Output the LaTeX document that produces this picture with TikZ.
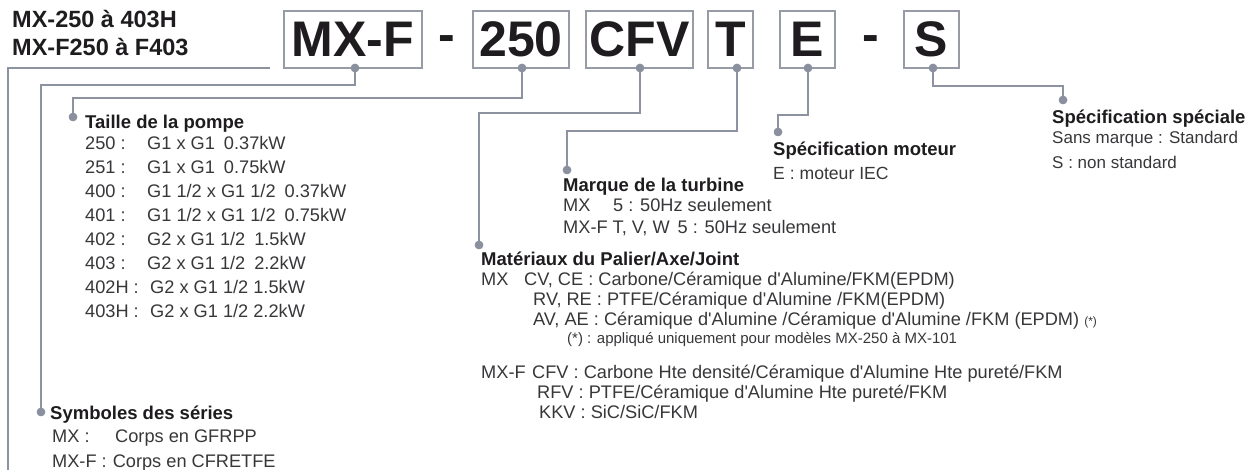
\documentclass[tikz,border=0pt]{standalone}
\usepackage{fontspec}
\setmainfont{Liberation Sans}[Ligatures=TeXOff]
\definecolor{linegray}{RGB}{140,146,160}
\definecolor{boxgray}{RGB}{150,155,166}
\definecolor{dotgray}{RGB}{138,144,158}
\definecolor{titlec}{RGB}{30,28,30}
\definecolor{bodyc}{RGB}{55,55,58}
\tikzset{
  conn/.style={draw=linegray, line width=1.1bp},
  dotn/.style={circle, fill=dotgray, inner sep=0pt, minimum size=8.5bp},
  codebox/.style={draw=boxgray, line width=1.2bp, inner sep=0pt,
    font=\fontsize{50bp}{50bp}\selectfont\bfseries, text=titlec},
  dashtxt/.style={font=\fontsize{50bp}{50bp}\selectfont\bfseries, text=titlec, inner sep=0pt, anchor=base},
  hdr/.style={font=\fontsize{23.5bp}{26bp}\selectfont\bfseries, anchor=base west, inner sep=0pt, text=titlec},
  ttl/.style={font=\fontsize{18.5bp}{20bp}\selectfont\bfseries, anchor=base west, inner sep=0pt, text=titlec},
  bdy/.style={font=\fontsize{18.2bp}{20bp}\selectfont, anchor=base west, inner sep=0pt, text=bodyc},
  bdyb/.style={bdy, font=\fontsize{17.6bp}{20bp}\selectfont},
  bdyc/.style={bdy, font=\fontsize{17bp}{20bp}\selectfont},
  small/.style={font=\fontsize{15bp}{16bp}\selectfont, anchor=base west, inner sep=0pt, text=bodyc},
}
\begin{document}
\begin{tikzpicture}[x=1bp,y=-1bp]
\useasboundingbox (0,0) rectangle (1253,470);
% header
\node[hdr] (h1) at (12,28) {MX-250 à 403H};
\node[hdr] (h2) at (12,56) {MX-F250 à F403};
% code boxes
\node[codebox, minimum width=138bp, minimum height=57bp] (bmxf) at (353,39.5) {MX-F};
\node[dashtxt] (d1) at (446.5,51.5) {-};
\node[codebox, minimum width=96bp, minimum height=57bp] (b250) at (521,39.5) {250};
\node[codebox, minimum width=107bp, minimum height=57bp] (bcfv) at (639.5,39.5) {CFV};
\node[codebox, minimum width=45bp, minimum height=57bp] (bt) at (730.5,39.5) {T};
\node[codebox, minimum width=55bp, minimum height=57bp] (be) at (807.5,39.5) {E};
\node[dashtxt] (d2) at (870.5,51.5) {-};
\node[codebox, minimum width=55bp, minimum height=57bp] (bs) at (931.5,39.5) {S};
% dots on boxes
\node[dotn] (pmxf) at (355,68) {};
\node[dotn] (p250) at (522,68) {};
\node[dotn] (pcfv) at (640,68) {};
\node[dotn] (pt) at (737,68) {};
\node[dotn] (pe) at (808,68) {};
\node[dotn] (ps) at (933,68) {};
% end dots
\node[dotn] (qsym) at (41,412) {};
\node[dotn] (qtai) at (73,117) {};
\node[dotn] (qmat) at (479,245) {};
\node[dotn] (qmar) at (567,170) {};
\node[dotn] (qmot) at (778,132) {};
\node[dotn] (qspe) at (1063,100) {};
\coordinate (outA) at (270,68);
\coordinate (outB) at (8,470);
% connectors
\draw[conn] (outA) -- (8,68) -- (outB);
\draw[conn] (pmxf.center) |- (41,85) -- (qsym.center);
\draw[conn] (p250.center) |- (73,98) -- (qtai.center);
\draw[conn] (pcfv.center) |- (479,113) -- (qmat.center);
\draw[conn] (pt.center) |- (567,131) -- (qmar.center);
\draw[conn] (pe.center) |- (778,115) -- (qmot.center);
\draw[conn] (ps.center) |- (1063,86) -- (qspe.center);
\foreach \n in {pmxf,p250,pcfv,pt,pe,ps,qsym,qtai,qmat,qmar,qmot,qspe}{\node[dotn] at (\n) {};}
% Taille de la pompe
\node[ttl] (ttai) at (85,129) {Taille de la pompe};
\node[bdy] (r1) at (85,150) {\makebox[62bp][l]{250 :}G1 x G1\hspace{9bp}0.37kW};
\node[bdy] (r2) at (85,174) {\makebox[62bp][l]{251 :}G1 x G1\hspace{9bp}0.75kW};
\node[bdy] (r3) at (85,198) {\makebox[62bp][l]{400 :}G1 1/2 x G1 1/2\hspace{9bp}0.37kW};
\node[bdy] (r4) at (85,222) {\makebox[62bp][l]{401 :}G1 1/2 x G1 1/2\hspace{9bp}0.75kW};
\node[bdy] (r5) at (85,246) {\makebox[62bp][l]{402 :}G2 x G1 1/2\hspace{9bp}1.5kW};
\node[bdy] (r6) at (85,270) {\makebox[62bp][l]{403 :}G2 x G1 1/2\hspace{9bp}2.2kW};
\node[bdy] (r7) at (85,294) {\makebox[65bp][l]{402H :}G2 x G1 1/2 1.5kW};
\node[bdy] (r8) at (85,318) {\makebox[65bp][l]{403H :}G2 x G1 1/2 2.2kW};
% Symboles des series
\node[ttl] (tsym) at (50,420) {Symboles des séries};
\node[bdy] (s1) at (52,443) {\makebox[63bp][l]{MX :}Corps en GFRPP};
\node[bdy] (s2) at (52,468) {MX-F :\hspace{6bp}Corps en CFRETFE};
% Marque de la turbine
\node[ttl] (tmar) at (563,192) {Marque de la turbine};
\node[bdy] (m1) at (563,212) {\makebox[50bp][l]{MX}5 : 50Hz seulement};
\node[bdy] (m2) at (563,234) {MX-F T, V, W\hspace{8bp}5 : 50Hz seulement};
% Specification moteur
\node[ttl] (tmot) at (773,156) {Spécification moteur};
\node[bdyb] (e1) at (773,180) {E : moteur IEC};
% Specification speciale
\node[ttl] (tspe) at (1052,124) {Spécification spéciale};
\node[bdyc] (sp1) at (1052,144) {Sans marque : Standard};
\node[bdyc] (sp2) at (1052,169) {S : non standard};
% Materiaux
\node[ttl] (tmat) at (481,266) {Matériaux du Palier/Axe/Joint};
\node[bdy] (a0) at (481,286) {MX};
\node[bdy] (a1) at (524,286) {CV, CE : Carbone/Céramique d'Alumine/FKM(EPDM)};
\node[bdy] (a2) at (533,306) {RV, RE : PTFE/Céramique d'Alumine /FKM(EPDM)};
\node[bdy] (a3) at (533,326) {AV, AE : Céramique d'Alumine /Céramique d'Alumine /FKM (EPDM) {\fontsize{12bp}{12bp}\selectfont (*)}};
\node[small] (fn) at (567,344) {(*) : appliqué uniquement pour modèles MX-250 à MX-101};
\node[bdy] (b0) at (481,379) {MX-F};
\node[bdy] (b1) at (532,379) {CFV : Carbone Hte densité/Céramique d'Alumine Hte pureté/FKM};
\node[bdy] (b2) at (537,399) {RFV : PTFE/Céramique d'Alumine Hte pureté/FKM};
\node[bdy] (b3) at (539,419) {KKV : SiC/SiC/FKM};
\end{tikzpicture}
\end{document}
